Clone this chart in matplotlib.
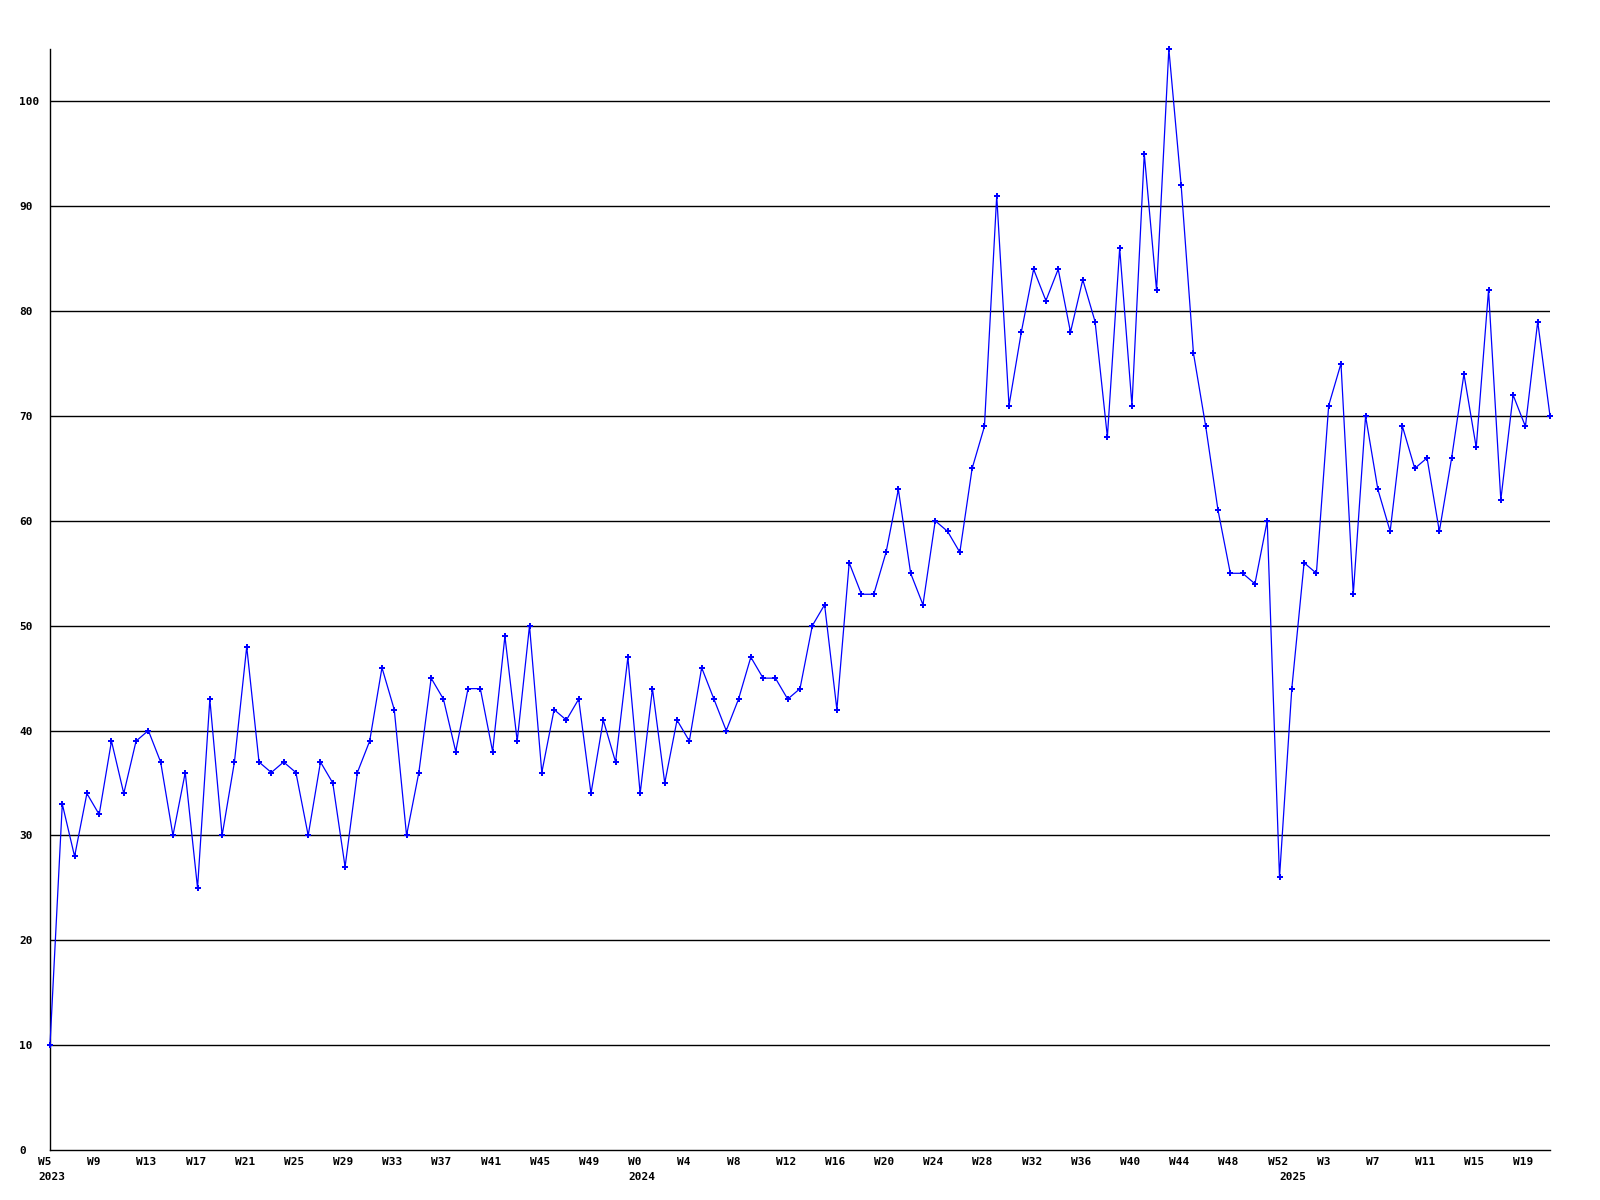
import numpy as np
import matplotlib
matplotlib.use('Agg')
import matplotlib.pyplot as plt

# Weekly counts, W5 2023 .. W21 2025
values_2023 = [10, 33, 28, 34, 32, 39, 34, 39, 40, 37, 30, 36, 25, 43, 30, 37,
               48, 37, 36, 37, 36, 30, 37, 35, 27, 36, 39, 46, 42, 30, 36, 45,
               43, 38, 44, 44, 38, 49, 39, 50, 36, 42, 41, 43, 34, 41, 37, 47]
values_2024 = [34, 44, 35, 41, 39, 46, 43, 40, 43, 47, 45, 45, 43, 44, 50, 52,
               42, 56, 53, 53, 57, 63, 55, 52, 60, 59, 57, 65, 69, 91, 71, 78,
               84, 81, 84, 78, 83, 79, 68, 86, 71, 95, 82, 105, 92, 76, 69, 61,
               55, 55, 54, 60, 26]
values_2025 = [44, 56, 55, 71, 75, 53, 70, 63, 59, 69, 65, 66, 59, 66, 74, 67,
               82, 62, 72, 69, 79, 70]

# week numbers as printed on the axis
weeks_2023 = list(range(5, 53))
weeks_2024 = list(range(0, 53))
weeks_2025 = list(range(0, 22))
year_names = ['2023', '2024', '2025']

values = values_2023 + values_2024 + values_2025
weeks = weeks_2023 + weeks_2024 + weeks_2025
x = np.arange(len(values))

fig = plt.figure(figsize=(16, 12), dpi=100)
ax = fig.add_axes([50 / 1600, 1 - 1150 / 1200, 1500 / 1600, 1101 / 1200])

font = {'family': 'DejaVu Sans Mono', 'weight': 'bold', 'size': 8}

for y in range(10, 101, 10):
    ax.axhline(y, color='black', linewidth=1.0, zorder=1)

ax.plot(x, values, color='#0000ff', linewidth=0.9, marker='P', markersize=3.8,
        markeredgewidth=0, zorder=3, clip_on=False)

ax.set_xlim(0, len(values) - 1)
ax.set_ylim(0, 105)

for s in ['top', 'right']:
    ax.spines[s].set_visible(False)
ax.spines['left'].set_color('black')
ax.spines['bottom'].set_color('black')
ax.spines['left'].set_linewidth(1.0)
ax.spines['bottom'].set_linewidth(1.0)

# y ticks: labels left aligned near the figure edge
ax.set_yticks(range(0, 101, 10))
ax.set_yticklabels([str(v) for v in range(0, 101, 10)], fontdict=font)
for lab in ax.get_yticklabels():
    lab.set_ha('left')
ax.tick_params(axis='y', length=0, pad=22)

# x labels every 4 weeks, starting a bit left of the point
ax.set_xticks([])
dx = -12 * 0.72  # 12 px in points
for i in x[::4]:
    ax.annotate('W%d' % weeks[i], xy=(i, 0), xycoords=('data', 'axes fraction'),
                xytext=(dx, -8.6), textcoords='offset points',
                ha='left', va='center', **font)

# year labels under the first week of each year
year_starts = [0, len(values_2023), len(values_2023) + len(values_2024)]
for pos, name in zip(year_starts, year_names):
    ax.annotate(name, xy=(pos, 0), xycoords=('data', 'axes fraction'),
                xytext=(dx, -19.5), textcoords='offset points',
                ha='left', va='center', **font)

fig.savefig('out.png', dpi=100, facecolor='white')
